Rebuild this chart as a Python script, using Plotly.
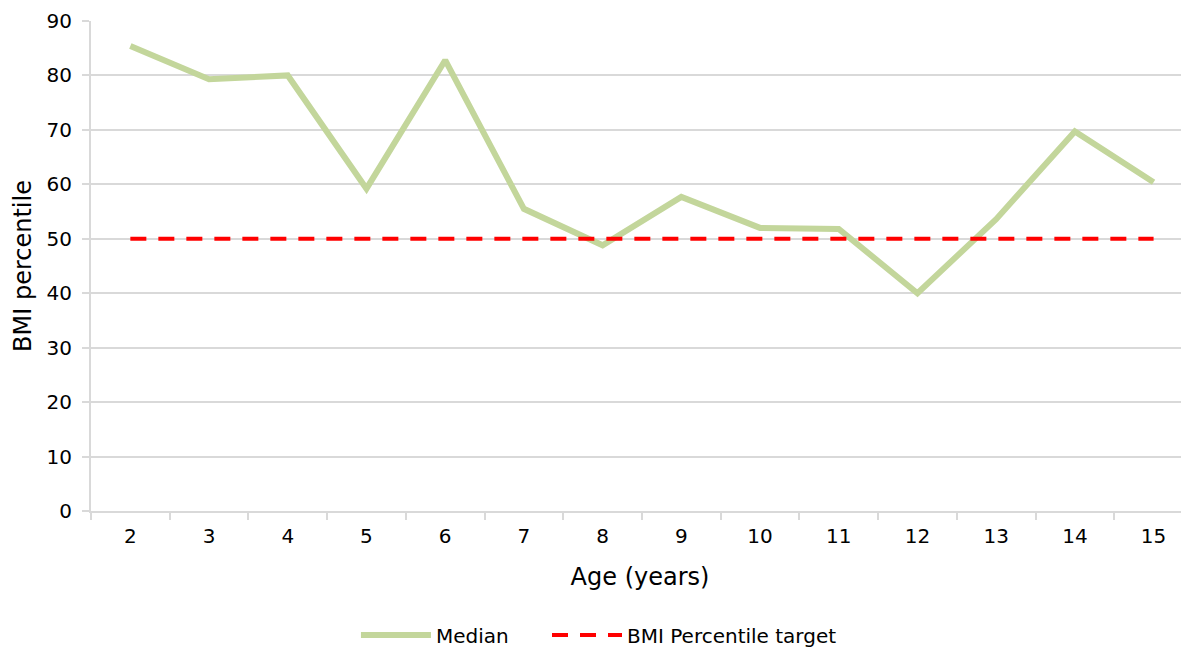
import plotly.graph_objects as go

ages = ["2", "3", "4", "5", "6", "7", "8", "9", "10", "11", "12", "13", "14", "15"]
median = [85.4, 79.3, 80.0, 59.2, 82.8, 55.5, 48.8, 57.7, 52.0, 51.8, 40.0, 53.6, 69.7, 60.4]
target = [50] * len(ages)

FONT = "DejaVu Sans"
GRID = "#d9d9d9"

fig = go.Figure()
fig.add_trace(go.Scatter(x=ages, y=median, mode="lines", name="Median",
                         line=dict(color="#C3D69B", width=6), legend="legend"))
fig.add_trace(go.Scatter(x=ages, y=target, mode="lines", name="BMI Percentile target",
                         line=dict(color="#FF0000", width=4, dash="16px,12px"), legend="legend2"))

leg_common = dict(orientation="h", y=-0.253, yanchor="middle", xanchor="left",
                  font=dict(size=20), itemwidth=70, bgcolor="rgba(0,0,0,0)")

fig.update_layout(
    width=1181, height=647,
    margin=dict(l=83, r=0, t=13, b=134),
    paper_bgcolor="white", plot_bgcolor="white",
    font=dict(family=FONT, size=20, color="#000000"),
    showlegend=True,
    legend=dict(x=0.2413, **leg_common),
    legend2=dict(x=0.4153, **leg_common),
    xaxis=dict(type="category", range=[-0.5, 13.45],
               showgrid=False, showline=True, linecolor=GRID, linewidth=2,
               ticks="outside", tickson="boundaries", ticklen=7, tickcolor=GRID, tickwidth=2,
               ticklabelstandoff=6,
               title=dict(text="Age (years)", font=dict(size=24), standoff=21),
               tickfont=dict(size=20)),
    yaxis=dict(range=[0, 90], dtick=10, showgrid=True, gridcolor=GRID, gridwidth=2,
               showline=True, linecolor=GRID, linewidth=2, zeroline=False,
               ticks="outside", ticklen=7, tickcolor=GRID, tickwidth=2,
               ticklabelstandoff=6,
               title=dict(text="BMI percentile", font=dict(size=24), standoff=8),
               tickfont=dict(size=20)),
)

fig.write_html("out.html")
